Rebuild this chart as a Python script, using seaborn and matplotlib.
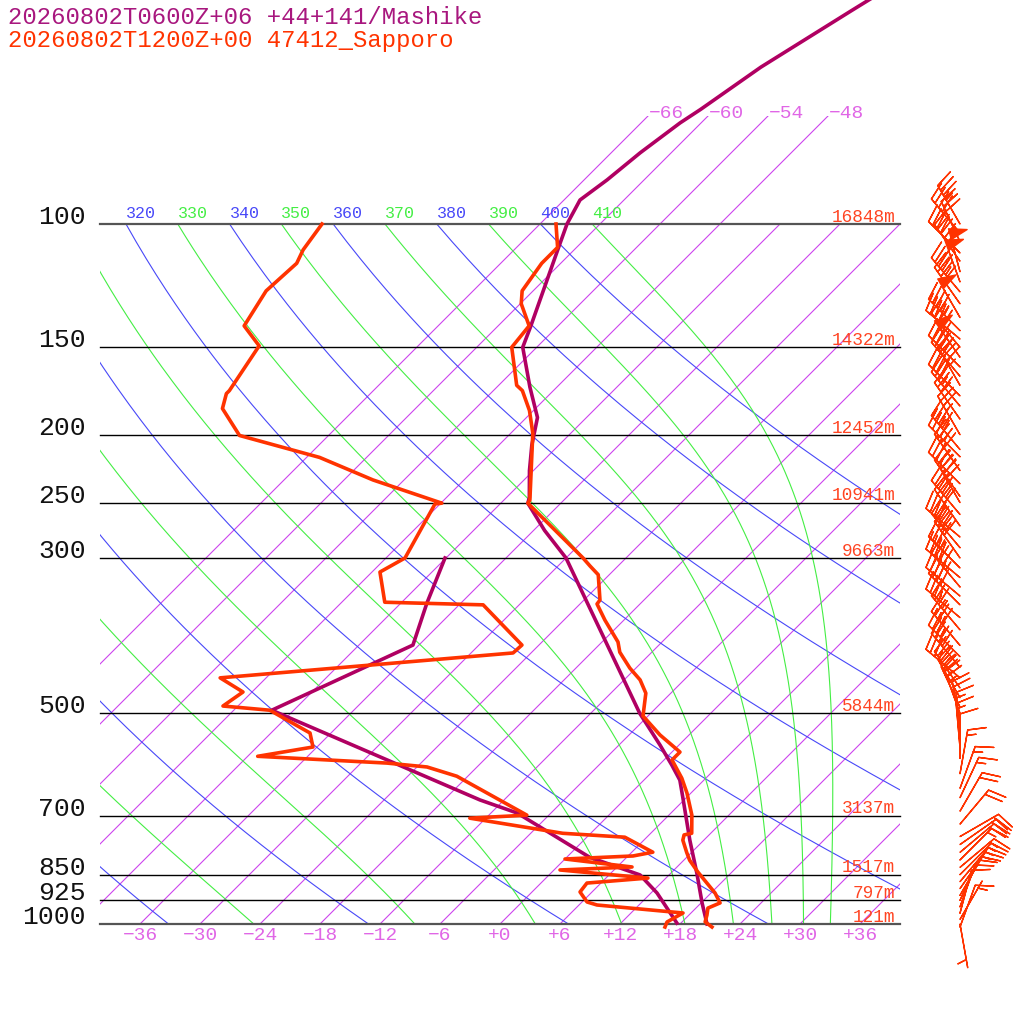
import numpy as np
import matplotlib
matplotlib.use("Agg")
import matplotlib.pyplot as plt
from matplotlib.patches import Rectangle
import seaborn as sns

SKEW = 70.0  # degC of skew per decade of pressure

# Mashike forecast profile
mash_t_p = [1000, 933, 846, 759, 659, 623, 593, 555, 500, 300, 274, 250.5, 246, 225, 207, 189,
            171, 150, 140, 108, 100, 92.4, 86.5, 79.1, 71.7, 68.6, 59.7, 49.6, 46.3]
mash_t = [20.7, 18.1, 14.6, 10.6, 5.6, 3.6, 1.3, -1.9, -7.1, -30.0, -34.9, -39.3, -39.7, -42.4,
          -44.7, -46.9, -50.7, -55.4, -56.7, -61.8, -63.3, -64.4, -63.7, -63.1, -62.1, -61.4,
          -59.6, -56.2, -54.9]
mash_td_p = [300, 348, 399.5, 495, 665, 694, 803, 851, 903, 964, 997]
mash_td = [-42.1, -39.4, -36.6, -44.2, -14.4, -9.4, 2.3, 9.1, 12.6, 15.9, 17.6]

# Sapporo observed profile
sap_t_p = [1010, 993, 971, 949, 933, 903, 843, 811, 790, 759, 746, 742, 699, 650, 619, 583, 568,
           537, 504.5, 468, 448, 431, 409, 395.5, 368, 349, 344.5, 317, 308, 300, 250.5, 248,
           199, 184.7, 173, 170, 150, 139.8, 130, 124.6, 113.8, 108, 100]
sap_t = [21.5, 20.3, 19.8, 19.2, 19.9, 18.4, 14.6, 12.6, 11.5, 9.9, 9.5, 10.1, 8.3, 5.6, 3.6, 0.8,
         0.8, -2.9, -6.5, -8.5, -10.4, -12.6, -15.2, -16.4, -19.9, -22.3, -22.4, -25.1, -26.8,
         -28.3, -39.3, -39.4, -45.8, -48.4, -51.1, -52.2, -56.5, -56.9, -59.9, -61.1, -61.9,
         -61.9, -64.4]
sap_td_p = [100, 108.9, 113.8, 124.6, 139.8, 149.3, 173, 174.7, 183.5, 200.5, 215.5, 232.1, 250.5,
            251.2, 300, 314.2, 347, 350, 399.5, 410, 445, 466.2, 488.2, 495, 533.5, 558.7, 576,
            589, 596.6, 615, 699, 706, 742, 751.6, 789.6, 799.5, 807.5, 829, 837.2, 859.8, 874,
            900, 930.1, 939.4, 964.4, 993.4, 1010]
sap_td = [-87.8, -87.1, -86.4, -86.7, -85.4, -81.9, -80.4, -80.4, -79.3, -74.9, -64.7, -57.1,
          -47.9, -48.5, -46.1, -47.2, -43.7, -33.6, -25.7, -25.8, -52.6, -48.9, -49.5, -44.4,
          -38.1, -36.4, -41.0, -27.4, -23.0, -19.1, -8.2, -13.6, -2.8, 3.8, 8.1, 6.5, 0.0, 7.5,
          0.6, 10.2, 4.6, 4.8, 6.5, 7.8, 17.2, 16.5, 16.8]

# Sapporo winds (hPa, direction deg, speed kt)
wind_p = [100, 103, 106, 110, 113, 117, 121, 125, 130, 136, 142, 146, 150, 155, 160, 165, 170,
          176, 182, 190, 200, 210, 215, 225, 235, 245, 250, 260, 270, 280, 290, 300, 310, 320,
          330, 340, 350, 365, 380, 400, 415, 430, 445, 460, 475, 490, 500, 520, 540, 560, 580,
          610, 640, 660, 690, 720, 750, 770, 790, 810, 830, 850, 870, 890, 910, 925, 945, 965,
          985, 1000, 1010]
wind_dir = [330, 320, 335, 315, 325, 345, 340, 320, 325, 330, 315, 310, 320, 325, 315, 320, 330,
            315, 320, 325, 330, 320, 315, 325, 315, 325, 330, 320, 325, 310, 320, 325, 315, 310,
            320, 310, 315, 310, 320, 320, 315, 320, 310, 325, 330, 335, 340, 350, 355, 355, 0,
            10, 20, 25, 30, 40, 60, 55, 50, 45, 50, 45, 40, 35, 30, 25, 20, 15, 30, 170, 20]
wind_spd = [35, 40, 30, 40, 45, 55, 50, 45, 40, 50, 45, 40, 45, 50, 45, 40, 45, 40, 35, 30, 35,
            40, 45, 40, 35, 40, 40, 45, 40, 40, 45, 40, 35, 40, 45, 40, 40, 35, 35, 40, 35, 40,
            35, 35, 30, 25, 25, 20, 15, 15, 10, 15, 15, 15, 20, 20, 20, 20, 20, 15, 15, 15, 15,
            15, 10, 10, 10, 10, 5, 5, 10]

levels = [100, 150, 200, 250, 300, 500, 700, 850, 925, 1000]
heights = ["16848m", "14322m", "12452m", "10941m", "9663m", "5844m", "3137m", "1517m", "797m", "121m"]
isotherms = list(range(-66, 37, 6))
top_isotherms = [-66, -60, -54, -48]
dry_thetas = list(range(240, 401, 20))
moist_thetas = list(range(230, 411, 20))

MASH = "#B00062"
SAP = "#FF3300"
ISO = "#CC44EE"
ISO_TXT = "#E066E6"
DRY = "#4848F8"
MOIST = "#44EE44"

plt.rcParams['font.family'] = ['Liberation Mono', 'DejaVu Sans Mono']


def skew(t, p):
    return np.asarray(t, float) + SKEW * np.log10(1000.0 / np.asarray(p, float))


def dtdp_moist(t, p):
    rd, cp, lv, eps = 287.04, 1005.7, 2.501e6, 0.622
    es = 6.112 * np.exp(17.67 * (t - 273.15) / (t - 29.65))
    rs = eps * es / (p - es)
    return (rd * t + lv * rs) / (p * (cp + lv * lv * rs * eps / (rd * t * t)))


def pseudo_adiabat(theta, pres):
    # start at the top where it is basically dry, integrate downward
    t = theta * (pres[0] / 1000.0) ** 0.2857
    out = [t]
    for p0, p1 in zip(pres[:-1], pres[1:]):
        dp = p1 - p0
        k1 = dtdp_moist(t, p0)
        k2 = dtdp_moist(t + 0.5 * dp * k1, p0 + 0.5 * dp)
        k3 = dtdp_moist(t + 0.5 * dp * k2, p0 + 0.5 * dp)
        k4 = dtdp_moist(t + dp * k3, p1)
        t = t + dp * (k1 + 2 * k2 + 2 * k3 + k4) / 6
        out.append(t)
    return np.array(out) - 273.15


fig = plt.figure(figsize=(10.24, 10.24), dpi=100)
ax = fig.add_axes([0, 0, 1, 1])
ax.set_yscale('log')
ax.set_axis_off()

frame = Rectangle((-40, 100), 80, 900, transform=ax.transData, fill=False)
frame_top = Rectangle((-40, 70), 80, 930, transform=ax.transData, fill=False)

# isotherms
for t in isotherms:
    top = 70 if t in top_isotherms else 100
    ln, = ax.plot(skew([t, t], [1000, top]), [1000, top], color=ISO, lw=0.8, zorder=1)
    ln.set_clip_path(frame_top if t in top_isotherms else frame)
for t in top_isotherms:
    ax.text(skew(t, 70), 70.5, f"\u2212{-t}", color=ISO_TXT, fontsize=14, ha='left', va='baseline')
for t in isotherms:
    if -40 < t < 40:
        lab = f"+{t}" if t >= 0 else f"\u2212{-t}"
        ax.text(t, 1040, lab, color=ISO_TXT, fontsize=14, ha='center', va='center')

# dry adiabats
pp = np.linspace(100, 1000, 300)
for th in dry_thetas:
    tt = th * (pp / 1000.0) ** 0.2857 - 273.15
    ln, = ax.plot(skew(tt, pp), pp, color=DRY, lw=0.8, zorder=1)
    ln.set_clip_path(frame)
    x0 = skew(tt[0], 100)
    if x0 > -40:
        ax.text(x0, 98, str(th), color=DRY, fontsize=12, ha='left', va='baseline')

# moist adiabats
pm = np.linspace(100, 1000, 451)
for th in moist_thetas:
    tt = pseudo_adiabat(th, pm)
    ln, = ax.plot(skew(tt, pm), pm, color=MOIST, lw=0.8, zorder=1)
    ln.set_clip_path(frame)
    x0 = skew(tt[0], 100)
    if x0 > -40:
        ax.text(x0, 98, str(th), color=MOIST, fontsize=12, ha='left', va='baseline')

# pressure lines with labels
for p, h in zip(levels, heights):
    edge = p in (100, 1000)
    ax.plot([-40, 40], [p, p], color="#555555" if edge else "black", lw=1.6 if edge else 1.0, zorder=2)
    ax.text(-41.4, p, str(p), color="#111111", fontsize=19, ha='right', va='baseline')
    ax.text(39.5, p * 0.993, h, color="#FF4422", fontsize=12.8, ha='right', va='baseline')

# profiles
for t, p in [(mash_t, mash_t_p), (mash_td, mash_td_p)]:
    sns.lineplot(x=skew(t, p), y=p, ax=ax, sort=False, estimator=None, color=MASH, lw=2.6, zorder=4)
for t, p in [(sap_t, sap_t_p), (sap_td, sap_td_p)]:
    sns.lineplot(x=skew(t, p), y=p, ax=ax, sort=False, estimator=None, color=SAP, lw=2.6, zorder=5)

# wind barbs
d = np.deg2rad(wind_dir)
u = -np.array(wind_spd) * np.sin(d)
v = -np.array(wind_spd) * np.cos(d)
ax.barbs(np.full(len(wind_p), 46.0), wind_p, u, v, length=8, color=SAP, linewidth=1.0, zorder=5)

ax.set_xlim(-50, 52.4)
ax.set_ylim(1000 * 10 ** (100 / 700), 1000 * 10 ** (-924 / 700))

fig.text(8 / 1024, 1 - 17 / 1024, "20260802T0600Z+06 +44+141/Mashike", color="#A8177E",
         fontsize=17.2, ha='left', va='center')
fig.text(8 / 1024, 1 - 41 / 1024, "20260802T1200Z+00 47412_Sapporo", color=SAP,
         fontsize=17.2, ha='left', va='center')

fig.savefig("out.png", dpi=100)
